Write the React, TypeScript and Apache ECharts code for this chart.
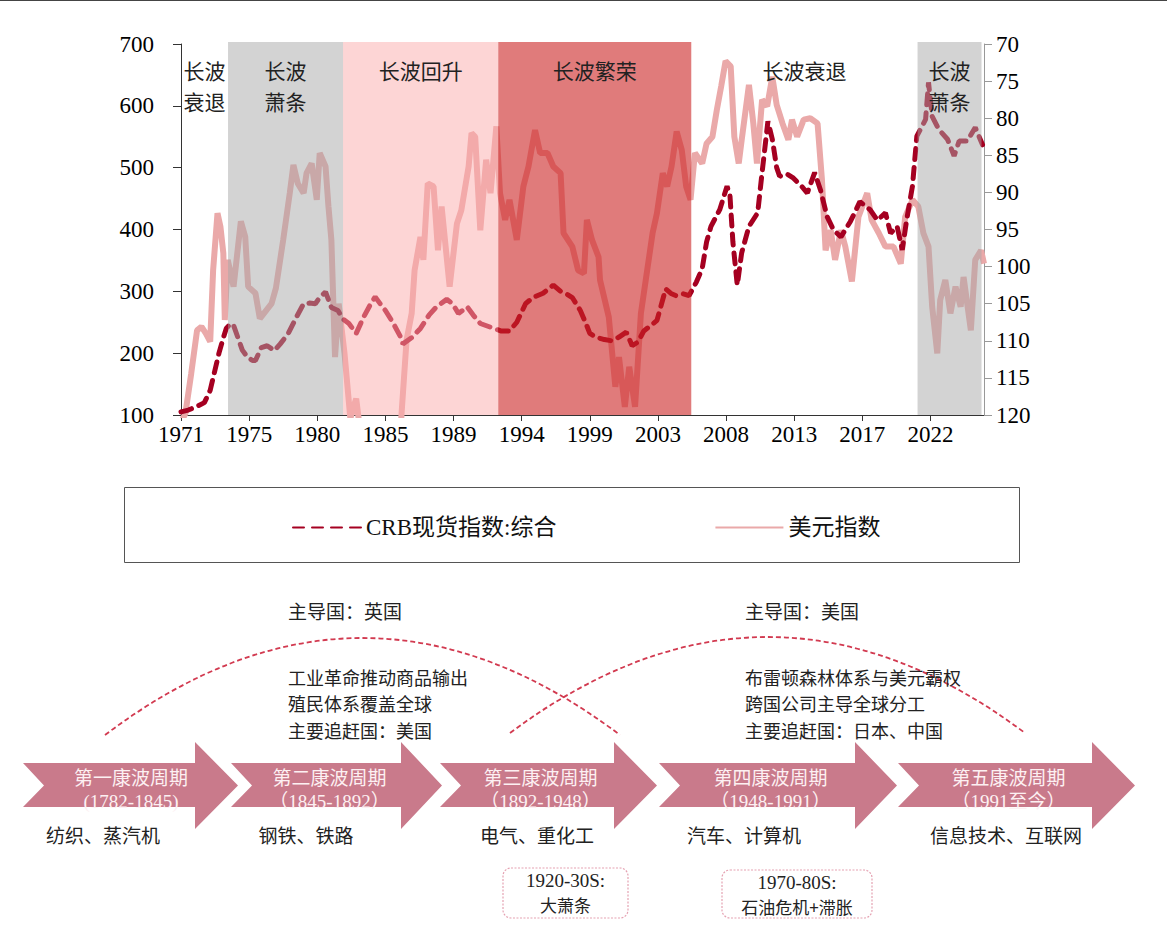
import React, { useEffect, useRef } from 'react';
import * as echarts from 'echarts';

// ---------- data ----------
const xTickLabels = ['1971', '1975', '1980', '1985', '1989', '1994', '1999', '2003', '2008', '2013', '2017', '2022'];
const startYear = 1971;

// CRB现货指数:综合 [year, value] (left axis)
const crbPoints: number[][] = [
  [1971.0, 105], [1971.5, 108], [1972.0, 113], [1972.6, 120], [1973.0, 140], [1973.3, 170], [1973.6, 200],
  [1973.9, 225], [1974.1, 240], [1974.4, 248], [1974.6, 245], [1974.9, 225], [1975.2, 205], [1975.5, 195],
  [1975.9, 188], [1976.1, 188], [1976.5, 209], [1976.9, 212], [1977.4, 204], [1977.8, 215], [1978.35, 232],
  [1978.9, 258], [1979.4, 280], [1979.8, 281], [1980.2, 280], [1980.5, 290], [1980.9, 299], [1981.3, 274],
  [1981.75, 269], [1982.1, 255], [1982.5, 248], [1983.0, 232], [1983.5, 258], [1984.0, 280], [1984.3, 291],
  [1984.7, 278], [1985.0, 269], [1985.5, 250], [1986.0, 228], [1986.2, 215], [1986.8, 225], [1987.4, 240],
  [1988.0, 262], [1988.5, 275], [1989.2, 287], [1989.6, 280], [1990.0, 264], [1990.6, 275], [1991.0, 262],
  [1991.5, 248], [1992.2, 242], [1992.9, 236], [1993.5, 236], [1994.0, 250], [1994.6, 280], [1995.1, 290],
  [1995.8, 297], [1996.5, 310], [1997.0, 300], [1997.4, 296], [1997.8, 290], [1998.35, 269], [1998.7, 250],
  [1999.0, 232], [1999.4, 226], [2000.0, 222], [2000.5, 220], [2001.0, 226], [2001.5, 234], [2001.9, 212],
  [2002.3, 218], [2002.7, 236], [2003.2, 245], [2003.6, 253], [2004.2, 304], [2004.6, 296], [2004.9, 293],
  [2005.4, 296], [2005.8, 293], [2006.3, 315], [2006.7, 337], [2007.0, 380], [2007.3, 405], [2007.9, 432],
  [2008.4, 470], [2008.6, 455], [2008.8, 380], [2009.1, 310], [2009.4, 362], [2009.9, 405], [2010.5, 427],
  [2010.8, 492], [2011.2, 575], [2011.5, 546], [2011.8, 500], [2012.0, 486], [2012.5, 490], [2012.9, 484],
  [2013.5, 470], [2013.9, 459], [2014.4, 492], [2014.8, 464], [2015.25, 421], [2015.7, 399], [2016.2, 388],
  [2016.85, 413], [2017.2, 430], [2017.5, 445], [2018.2, 432], [2018.7, 415], [2019.25, 427], [2019.6, 394],
  [2020.05, 405], [2020.4, 367], [2020.7, 415], [2021.1, 470], [2021.4, 551], [2022.0, 578], [2022.2, 638],
  [2022.45, 583], [2022.9, 562], [2023.5, 546], [2023.95, 519], [2024.3, 543], [2024.85, 543], [2025.4, 565],
  [2025.9, 537],
];

// 美元指数 [year, value] (right axis, inverted)
const dollarPoints: number[][] = [
  [1971.0, 121], [1971.3, 119.8], [1971.7, 114.4], [1972.1, 108.6], [1972.4, 108.1], [1972.7, 109], [1973.0, 110.1],
  [1973.2, 100.5], [1973.5, 92.8], [1973.7, 94.6], [1973.9, 98.2], [1974.0, 107.2], [1974.2, 99.1], [1974.6, 102.7],
  [1975.1, 93.9], [1975.4, 96.0], [1975.6, 102.7], [1976.1, 103.6], [1976.4, 107.0], [1976.8, 106], [1977.2, 105.0],
  [1977.5, 102.9], [1978.0, 96.4], [1978.45, 90.1], [1978.7, 86.3], [1979.0, 88.8], [1979.4, 90.1], [1979.6, 87.4],
  [1979.95, 86.1], [1980.3, 91.0], [1980.5, 84.7], [1980.9, 86.5], [1981.1, 91.9], [1981.3, 96.4], [1981.55, 112.2],
  [1981.8, 105.0], [1982.2, 111.7], [1982.6, 120.5], [1982.8, 119], [1983.0, 117.8], [1983.2, 121], [1983.6, 126],
  [1984.2, 135], [1985.0, 145], [1985.6, 132], [1986.0, 124], [1986.1, 120], [1986.45, 109.9], [1986.8, 106.3],
  [1987.0, 100.5], [1987.4, 96.0], [1987.6, 99.1], [1987.9, 88.8], [1988.3, 89.2], [1988.6, 97.8], [1988.85, 91.9],
  [1989.4, 102.7], [1989.9, 94.2], [1990.2, 92.4], [1990.7, 86.5], [1990.9, 82.0], [1991.15, 82.5], [1991.5, 95.1],
  [1991.9, 85.6], [1992.2, 90.1], [1992.6, 81.1], [1992.85, 90.1], [1993.2, 93.7], [1993.5, 91.0], [1994.0, 96.4],
  [1994.45, 89.2], [1994.8, 86.5], [1995.25, 81.6], [1995.6, 84.7], [1996.1, 84.7], [1996.5, 86.5], [1997.0, 87.4],
  [1997.2, 95.5], [1997.8, 97.3], [1998.2, 100.5], [1998.6, 100.9], [1998.8, 93.7], [1999.15, 96.4], [1999.6, 98.7],
  [1999.7, 101.8], [2000.3, 106.8], [2000.75, 116.2], [2001.0, 112.2], [2001.4, 118.9], [2001.7, 113.5],
  [2002.1, 118.9], [2002.5, 106.3], [2002.9, 100.9], [2003.3, 95.5], [2003.6, 92.8], [2004.0, 87.4], [2004.3, 89.2],
  [2004.6, 86.5], [2004.95, 81.8], [2005.3, 84.3], [2005.6, 89.2], [2005.9, 91.0], [2006.2, 84.7], [2006.7, 86.1],
  [2007.0, 83.4], [2007.4, 82.5], [2007.7, 78.9], [2008.0, 75.7], [2008.3, 72.3], [2008.65, 73.0], [2008.9, 82.5],
  [2009.2, 86.1], [2009.4, 83.0], [2009.9, 75.5], [2010.2, 80.7], [2010.45, 86.1], [2010.8, 77.5], [2011.15, 78.4],
  [2011.5, 74.4], [2011.8, 78.2], [2012.2, 80.7], [2012.6, 82.9], [2012.85, 80.2], [2013.2, 82.5], [2013.65, 80.2],
  [2014.1, 80.0], [2014.6, 80.7], [2014.9, 88.3], [2015.15, 97.8], [2015.5, 95.1], [2015.8, 99.1], [2016.2, 95.1],
  [2016.5, 97.3], [2016.95, 102.0], [2017.4, 93.3], [2018.0, 90.1], [2018.3, 93.7], [2018.8, 95.5], [2019.25, 97.3],
  [2019.8, 97.3], [2020.3, 99.6], [2020.6, 93.3], [2021.1, 91.0], [2021.5, 91.9], [2021.85, 95.5], [2022.2, 97.3],
  [2022.45, 105.4], [2022.8, 111.7], [2023.0, 104.5], [2023.35, 101.8], [2023.7, 106.3], [2024.05, 102.7],
  [2024.4, 105.4], [2024.6, 101.4], [2025.1, 108.6], [2025.4, 99.1], [2025.8, 97.8], [2026.0, 99.6],
];

// long-wave phases
const bandStarts = [1971.0, 1974.22, 1982.1, 1992.73, 2005.95, 2021.45];
const bandEnds = [1974.22, 1982.1, 1992.73, 2005.95, 2021.45, 2025.83];
const bandLabels = ['长波\n衰退', '长波\n萧条', '长波回升', '长波繁荣', '长波衰退', '长波\n萧条'];
const bandColors = ['rgba(0,0,0,0)', 'rgba(167,167,167,0.5)', 'rgba(251,171,171,0.5)', 'rgba(203,35,35,0.6)', 'rgba(0,0,0,0)', 'rgba(167,167,167,0.5)'];

// Kondratieff cycles diagram texts
const cycleNames = ['第一康波周期', '第二康波周期', '第三康波周期', '第四康波周期', '第五康波周期'];
const cyclePeriods = ['(1782-1845)', '（1845-1892）', '（1892-1948）', '（1948-1991）', '（1991至今）'];
const cycleIndustries = ['纺织、蒸汽机', '钢铁、铁路', '电气、重化工', '汽车、计算机', '信息技术、互联网'];
const leaderTitles = ['主导国：英国', '主导国：美国'];
const leaderNotes = [
  ['工业革命推动商品输出', '殖民体系覆盖全球', '主要追赶国：美国'],
  ['布雷顿森林体系与美元霸权', '跨国公司主导全球分工', '主要追赶国：日本、中国'],
];
const crisisNotes = [['1920-30S:', '大萧条'], ['1970-80S:', '石油危机+滞胀']];

const serif = '"Liberation Serif", "Noto Sans CJK SC", serif';
const cjk = '"Noto Sans CJK SC", "Liberation Serif", sans-serif';
const toMonth = (y: number) => (y - startYear) * 12;

export default function App() {
  const ref = useRef<HTMLDivElement>(null);
  useEffect(() => {
    document.body.style.margin = '0';
    const chart = echarts.init(ref.current!, null, { renderer: 'svg' });

    // diagram geometry (layout)
    const arrowX = [[23, 195, 238], [231, 401, 442], [440, 614, 657], [659, 855, 897], [898, 1092, 1135]];
    const graphic: any[] = [
      { type: 'line', shape: { x1: 0, y1: 0.5, x2: 1167, y2: 0.5 }, style: { stroke: '#444', lineWidth: 1 } },
      { type: 'rect', shape: { x: 124.5, y: 487.5, width: 895, height: 75 }, style: { fill: 'none', stroke: '#555', lineWidth: 1 } },
      { type: 'bezierCurve', shape: { x1: 105, y1: 735, x2: 620, y2: 735, cpx1: 362, cpy1: 541 }, style: { fill: 'none', stroke: '#d23a50', lineWidth: 1.8, lineDash: [5, 3] } },
      { type: 'bezierCurve', shape: { x1: 510, y1: 733, x2: 1025, y2: 733, cpx1: 768, cpy1: 541 }, style: { fill: 'none', stroke: '#d23a50', lineWidth: 1.8, lineDash: [5, 3] } },
    ];
    arrowX.forEach(([x0, hs, tip], i) => {
      graphic.push({
        type: 'polygon',
        shape: { points: [[x0, 763], [hs, 763], [hs, 742], [tip, 785.5], [hs, 829], [hs, 807], [x0, 807], [x0 + 21, 785.5]] },
        style: { fill: '#c97a8b' },
      });
      const cx = i === 0 ? 131 : (x0 + 21 + hs) / 2 + 3;
      graphic.push({ type: 'text', x: cx, y: 776, style: { text: cycleNames[i], fill: '#fdf0f2', fontSize: 19, fontFamily: cjk, textAlign: 'center', textVerticalAlign: 'middle' } });
      graphic.push({ type: 'text', x: cx, y: 801, style: { text: cyclePeriods[i], fill: '#fdf0f2', fontSize: 19, fontFamily: serif, textAlign: 'center', textVerticalAlign: 'middle' } });
    });
    const indX = [103, 306, 537, 744, 1006];
    cycleIndustries.forEach((t, i) => {
      graphic.push({ type: 'text', x: indX[i], y: 834, style: { text: t, fill: '#222', fontSize: 19, fontFamily: cjk, textAlign: 'center', textVerticalAlign: 'middle' } });
    });
    const leadX = [288, 745];
    leaderTitles.forEach((t, i) => {
      graphic.push({ type: 'text', x: leadX[i], y: 610, style: { text: t, fill: '#222', fontSize: 19, fontFamily: cjk, textAlign: 'left', textVerticalAlign: 'middle' } });
      graphic.push({
        type: 'text',
        x: leadX[i],
        y: 663.5,
        style: { text: leaderNotes[i].join('\n'), fill: '#222', fontSize: 18, lineHeight: 26.5, fontFamily: cjk, textAlign: 'left', textVerticalAlign: 'top' },
      });
    });
    const boxes = [[503, 868, 125, 50], [722, 870, 150, 48]];
    crisisNotes.forEach((lines, i) => {
      const [bx, by, bw, bh] = boxes[i];
      graphic.push({ type: 'rect', shape: { x: bx, y: by, width: bw, height: bh, r: 8 }, style: { fill: '#fff', stroke: '#e5a2b2', lineWidth: 1.2, lineDash: [2, 1.5] } });
      graphic.push({ type: 'text', x: bx + bw / 2, y: by + 12.5, style: { text: lines[0], fill: '#222', fontSize: 19, fontFamily: serif, textAlign: 'center', textVerticalAlign: 'middle' } });
      graphic.push({ type: 'text', x: bx + bw / 2, y: by + 36.5, style: { text: lines[1], fill: '#222', fontSize: 17, fontFamily: cjk, textAlign: 'center', textVerticalAlign: 'middle' } });
    });

    const option: any = {
      animation: false,
      backgroundColor: '#fff',
      grid: { left: 181, right: 183, top: 44, bottom: 519 },
      legend: {
        data: ['CRB现货指数:综合', '美元指数'],
        left: 287,
        top: 511,
        itemWidth: 68,
        itemHeight: 14,
        itemGap: 158,
        itemStyle: { opacity: 0 },
        textStyle: { fontSize: 23, fontFamily: serif, color: '#111' },
      },
      xAxis: {
        type: 'value',
        min: 0,
        max: 660,
        interval: 56,
        axisLine: { lineStyle: { color: '#333', width: 1 } },
        axisTick: { show: true, length: 6, lineStyle: { color: '#333' } },
        axisLabel: {
          fontSize: 23,
          fontFamily: serif,
          color: '#000',
          margin: 8,
          showMaxLabel: false,
          formatter: (v: number) => xTickLabels[Math.round(v / 56)] ?? '',
        },
        splitLine: { show: false },
      },
      yAxis: [
        {
          type: 'value',
          min: 100,
          max: 700,
          interval: 100,
          axisLine: { show: true, lineStyle: { color: '#333' } },
          axisTick: { show: true, length: 8, lineStyle: { color: '#333' } },
          axisLabel: { fontSize: 23, fontFamily: serif, color: '#000', margin: 27 },
          splitLine: { show: false },
        },
        {
          type: 'value',
          min: 70,
          max: 120,
          interval: 5,
          inverse: true,
          position: 'right',
          axisLine: { show: true, lineStyle: { color: '#999' } },
          axisTick: { show: true, length: 8, lineStyle: { color: '#999' } },
          axisLabel: { fontSize: 23, fontFamily: serif, color: '#000', margin: 12 },
          splitLine: { show: false },
        },
      ],
      series: [
        {
          name: '美元指数',
          type: 'line',
          yAxisIndex: 1,
          symbol: 'none',
          z: 2,
          data: dollarPoints.map(([y, v]) => [toMonth(y), v]),
          lineStyle: { color: '#eaa9a9', width: 6 },
          itemStyle: { color: '#eaa9a9' },
        },
        {
          name: 'CRB现货指数:综合',
          type: 'line',
          yAxisIndex: 0,
          symbol: 'none',
          z: 3,
          data: crbPoints.map(([y, v]) => [toMonth(y), v]),
          lineStyle: { color: '#a50021', width: 5, type: [11, 8], cap: 'round' },
          itemStyle: { color: '#a50021' },
        },
        {
          name: 'bands',
          type: 'custom',
          z: 10,
          silent: true,
          data: bandStarts.map((s, i) => [toMonth(s), toMonth(bandEnds[i]), i]),
          encode: { x: [0, 1] },
          renderItem: (params: any, api: any) => {
            const i = api.value(2);
            const p0 = api.coord([api.value(0), 700]);
            const p1 = api.coord([api.value(1), 100]);
            return {
              type: 'group',
              children: [
                {
                  type: 'rect',
                  shape: { x: p0[0], y: p0[1] - 2, width: p1[0] - p0[0], height: p1[1] - p0[1] + 2 },
                  style: { fill: bandColors[i] },
                },
                {
                  type: 'text',
                  x: (p0[0] + p1[0]) / 2,
                  y: p0[1] + 10,
                  style: {
                    text: bandLabels[i],
                    fill: '#222',
                    fontSize: 21,
                    fontFamily: cjk,
                    lineHeight: 31,
                    textAlign: 'center',
                    textVerticalAlign: 'top',
                  },
                },
              ],
            };
          },
        },
      ],
      graphic,
    };
    chart.setOption(option);
    return () => chart.dispose();
  }, []);
  return <div ref={ref} style={{ width: 1167, height: 934 }} />;
}
